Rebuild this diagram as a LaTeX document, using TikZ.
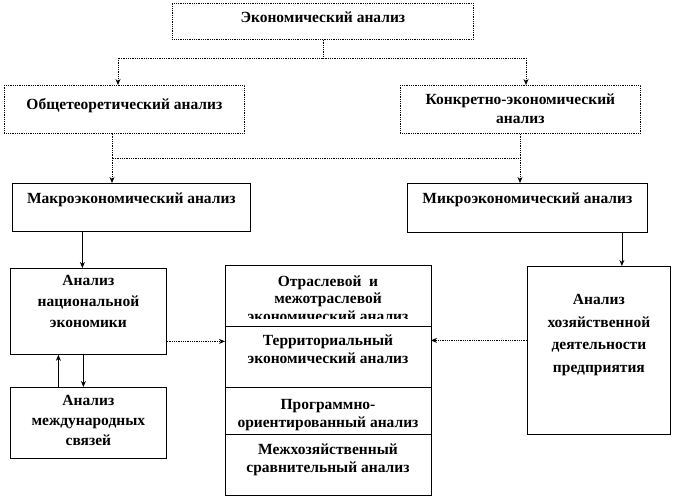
\documentclass[tikz,border=0pt]{standalone}
\usepackage{fontspec}
\setmainfont{Liberation Serif}
\usetikzlibrary{positioning,arrows.meta}

\begin{document}
\begin{tikzpicture}[
    x=1pt, y=-1pt,
    node distance=0pt,
    box/.style={draw, line width=0.8pt, anchor=north west, align=center, inner sep=2pt, font=\fontsize{15.5}{21}\selectfont\bfseries},
    topbox/.style={box, densely dotted},
    sect/.style={box, outer sep=0pt, minimum width=206, text depth=0, font=\fontsize{15.5}{17.5}\selectfont\bfseries},
    arr/.style={-{Stealth[length=6pt,width=5pt]}, line width=0.8pt},
    dotarr/.style={arr, densely dotted},
    dotline/.style={line width=0.8pt, densely dotted}
]
\useasboundingbox (0,0) rectangle (673,497);
\node[topbox, minimum width=301, minimum height=36, text depth=9] (econ) at (172,3) {Экономический анализ};
\node[topbox, minimum width=240, minimum height=48, text depth=11] (gen) at (4,85) {Общетеоретический анализ};
\node[topbox, minimum width=240, minimum height=48, text depth=0, text height=28, font=\fontsize{15.5}{19}\selectfont\bfseries] (conc) at (400,85) {Конкретно-экономический\\анализ};
\node[box, minimum width=238, minimum height=48, text depth=19] (macro) at (12,183) {Макроэкономический анализ};
\node[box, minimum width=240, minimum height=49, text depth=20] (micro) at (407,183) {Микроэкономический анализ};
\node[box, minimum width=156, minimum height=86, text depth=0, text height=32] (nat) at (10,268) {Анализ\\национальной\\экономики};
\node[box, minimum width=156, minimum height=71, text depth=0, text height=45, font=\fontsize{15.5}{20}\selectfont\bfseries] (intl) at (10,387) {Анализ\\международных\\связей};
\node[box, minimum width=143, minimum height=168, text depth=0, text height=43.5, font=\fontsize{15.5}{22.5}\selectfont\bfseries] (ent) at (527,266) {Анализ\\хозяйственной\\деятельности\\предприятия};

% center column
\begin{scope}
  \clip (225,265) rectangle (431,319);
  \node[sect, minimum height=61, text height=52] (s1) at (225,265) {Отраслевой~ и\\межотраслевой\\экономический анализ};
\end{scope}
\node[sect, minimum height=61, text height=13.5, below=of s1] (s2) {Территориальный\\экономический анализ};
\node[sect, minimum height=47, text height=33.5, below=of s2] (s3) {Программно-\\ориентированный анализ};
\node[sect, minimum height=61, text height=15.5, below=of s3] (s4) {Межхозяйственный\\сравнительный анализ};
\draw[line width=0.8pt] (s1.north west) rectangle (s4.south east);

\coordinate (sl) at (118,58);
\coordinate (sr) at (526,58);
\coordinate (ml) at (112,158);
\coordinate (mr) at (520,158);
\draw[dotline] (econ.south) |- (sl);
\draw[dotline] (econ.south) |- (sr);
\draw[dotarr] (sl) -- (sl |- gen.north);
\draw[dotarr] (sr) -- (sr |- conc.north);
\draw[dotline] (gen.south -| ml) -- (ml) -- (mr);
\draw[dotline] (conc.south -| mr) -- (mr);
\draw[dotarr] (ml) -- (ml |- macro.north);
\draw[dotarr] (mr) -- (mr |- micro.north);
\draw[arr] ([xshift=-6]macro.south -| nat.north) -- ([xshift=-6]nat.north);
\draw[arr] ([xshift=23]micro.south -| ent.north) -- ([xshift=23]ent.north);
\draw[arr] ([xshift=-30]intl.north) -- ([xshift=-30]nat.south);
\draw[arr] ([xshift=-5]nat.south) -- ([xshift=-5]intl.north);
\draw[dotarr] ([yshift=-30]nat.east) -- ([yshift=-30]nat.east -| s2.west);
\draw[dotarr] ([yshift=10]ent.west) -- ([yshift=10]ent.west -| s2.east);
\end{tikzpicture}
\end{document}
